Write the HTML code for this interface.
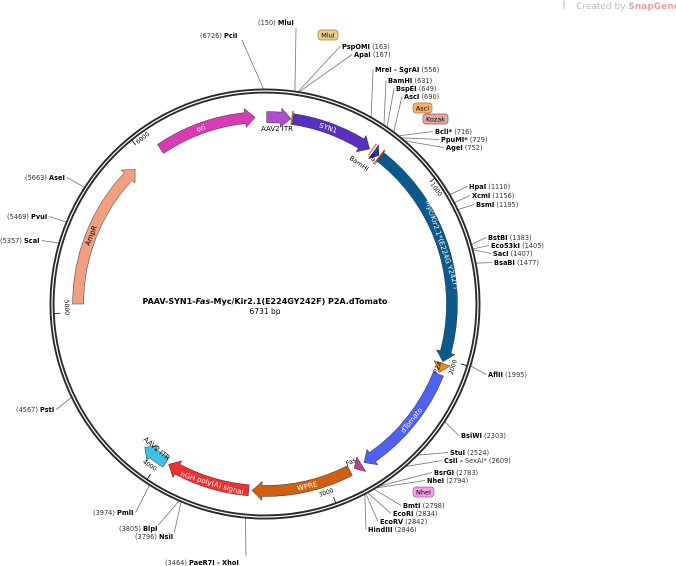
<!DOCTYPE html>
<html><head><meta charset="utf-8"><style>
html,body{margin:0;padding:0;background:#fff;width:676px;height:566px;overflow:hidden}
svg text{font-family:"DejaVu Sans","Liberation Sans",sans-serif}
.e{font-size:6.6px;font-weight:bold;fill:#000}
.n{font-weight:normal;fill:#333}
.g{font-size:6.6px;fill:#888}
</style></head><body>
<svg id="s" width="676" height="566" viewBox="0 0 676 566" xmlns="http://www.w3.org/2000/svg">
<text x="576" y="9" font-size="9" fill="#bbb">Created by <tspan fill="#e8a0a0" font-weight="bold">SnapGene</tspan></text>
<rect x="563" y="1" width="2" height="8" fill="#cde"/>
<g id="lines" stroke="#777" stroke-width="0.8" fill="none"></g>
<circle cx="265" cy="304" r="213" fill="none" stroke="#2a2a2a" stroke-width="5"/>
<circle cx="265" cy="304" r="213" fill="none" stroke="#fff" stroke-width="1.2"/>
<g id="feat"></g>
<g id="ticks"></g>
<text x="265" y="304" font-size="8" font-weight="bold" text-anchor="middle">PAAV-SYN1-<tspan font-style="italic">Fas</tspan>-Myc/Kir2.1(E224GY242F) P2A.dTomato</text>
<text x="265" y="314" font-size="7.5" text-anchor="middle">6731 bp</text>
<g id="labs"></g>
<text x="261" y="131" font-size="7">AAV2 ITR</text>
<text font-size="6.5" transform="translate(369,156) rotate(60)">Fas</text>
<text font-size="6.5" transform="translate(349,159) rotate(35)">BamHI</text>
<text font-size="6.5" transform="translate(437,374) rotate(-65)">P2A</text>
<text font-size="6.5" transform="translate(347,466) rotate(-25)">Fas</text>
<text font-size="7" transform="translate(143,440) rotate(40)">AAV2 ITR</text>
<rect x="318" y="30" width="20" height="10" rx="3" fill="#e8cf92" stroke="#a08040" stroke-width="0.7"/>
<text x="328" y="37.5" font-size="6.5" text-anchor="middle">MluI</text>
<rect x="413" y="103" width="19" height="10" rx="3" fill="#f6b070" stroke="#c07030" stroke-width="0.7"/>
<text x="422.5" y="110.5" font-size="6.5" text-anchor="middle">AscI</text>
<rect x="423" y="114" width="25" height="10" rx="3" fill="#e8a8a8" stroke="#a05050" stroke-width="0.7"/>
<text x="435.5" y="121.5" font-size="6.5" text-anchor="middle">Kozak</text>
<rect x="413" y="487" width="21" height="10" rx="3" fill="#f0a0e8" stroke="#c050b0" stroke-width="0.7"/>
<text x="423.5" y="494.5" font-size="6.5" text-anchor="middle">NheI</text>
</svg>
<script>
var cx=265,cy=304,NS="http://www.w3.org/2000/svg";
function P(a,r){var t=(a-90)*Math.PI/180;return [cx+r*Math.cos(t),cy+r*Math.sin(t)];}
function el(tag,at,parent,txt){var e=document.createElementNS(NS,tag);for(var k in at)e.setAttribute(k,at[k]);if(txt)e.textContent=txt;document.getElementById(parent).appendChild(e);return e;}
function f(p){return p[0].toFixed(1)+","+p[1].toFixed(1);}
function arrow(a1,a2,col,label,tcol,r,w){
 r=r||187;w=w||11;var hl=10/r*180/Math.PI,hw=4;var ro=r+w/2,ri=r-w/2,d;
 var b=Math.max(a1,a2-hl);var lg=(b-a1)>180?1:0;
 d="M"+f(P(a1,ro))+"A"+ro+","+ro+" 0 "+lg+" 1 "+f(P(b,ro))+"L"+f(P(b,ro+hw))+"L"+f(P(a2,r))+"L"+f(P(b,ri-hw))+"L"+f(P(b,ri))+"A"+ri+","+ri+" 0 "+lg+" 0 "+f(P(a1,ri))+"Z";
 el("path",{d:d,fill:col,stroke:"#333","stroke-width":0.5},"feat");
 if(label){var m=(a1+a2-hl)/2,p=P(m,r),rot=(m>90&&m<270)?m-180:m;
  el("text",{x:0,y:2.3,"font-size":7,fill:tcol||"#fff","text-anchor":"middle",transform:"translate("+f(p)+") rotate("+rot+")"},"feat",label);}
}
arrow(-34,-3,"#d83bb4","ori");
arrow(0.5,8,"#b04cd0");
arrow(8.6,34,"#5a2ec0","SYN1");
arrow(35.5,37.5,"#2a3aa0",null,null,187,9);
arrow(38,108,"#0c5a8c","Myc/Kir2.1*(E224G Y242F)");
arrow(108.5,111.5,"#f08a10",null,null,187,9);
arrow(112,148,"#5060f0","dTomato");
arrow(149,151.5,"#c04090",null,null,187,9);
arrow(153,184,"#d06010","WPRE");
arrow(185,211,"#f03030","hGH poly(A) signal");
arrow(212,220,"#40c0e8");
arrow(270,316,"#f0a080","AmpR","#000");
[[34.8,"#f07070"],[37.9,"#c03010"]].forEach(function(m){var a=P(m[0],181),b=P(m[0],195);el("line",{x1:a[0],y1:a[1],x2:b[0],y2:b[1],stroke:m[1],"stroke-width":1.5},"feat");});
var t0=P(8.3,181),t1=P(8.3,195);el("line",{x1:t0[0],y1:t0[1],x2:t1[0],y2:t1[1],stroke:"#a07020","stroke-width":1.5},"feat");
[1000,2000,3000,4000,5000,6000].forEach(function(b){var a=b/6731*360,p1=P(a,211),p2=P(a,205);
 el("line",{x1:p1[0],y1:p1[1],x2:p2[0],y2:p2[1],stroke:"#000","stroke-width":0.8},"ticks");
 var bottom=(a>90&&a<270);var rot=bottom?a-180:a;
 var pt=P(bottom?a-0.6:a+0.6,bottom?200:204);
 el("text",{x:0,y:0,"font-size":6,"text-anchor":bottom?"end":"start",transform:"translate("+f(pt)+") rotate("+rot+")"},"ticks",""+b);});
var L=[
[6726,200,38,"(6726) ","PciI",1],[150,258,25,"(150) ","MluI",1],
[163,342,49,"PspOMI"," (163)"],[167,354,57,"ApaI"," (167)"],[556,375,72,"MreI - SgrAI"," (556)"],
[631,388,83,"BamHI"," (631)"],[649,396,91,"BspEI"," (649)"],[690,404,99,"AscI"," (690)"],
[716,435,134,"BclI*"," (716)",0,1],[729,441,142,"PpuMI*"," (729)",0,1],[752,446,150,"AgeI"," (752)"],
[1110,469,189,"HpaI"," (1110)"],[1156,472,198,"XcmI"," (1156)"],[1195,476,207,"BsmI"," (1195)"],
[1383,488,240,"BstBI"," (1383)"],[1405,491,248,"Eco53kI"," (1405)"],[1407,493,256,"SacI"," (1407)"],[1477,494,265,"BsaBI"," (1477)"],
[1995,488,377,"AflII"," (1995)"],[2303,461,438,"BsiWI"," (2303)"],[2524,450,455,"StuI"," (2524)"],[2609,444,463,"CsII - ",""],
[2783,434,475,"BsrGI"," (2783)"],[2794,427,483,"NheI"," (2794)"],[2798,403,508,"BmtI"," (2798)"],[2834,393,516,"EcoRI"," (2834)"],
[2842,380,524,"EcoRV"," (2842)"],[2846,368,532,"HindIII"," (2846)"],
[3464,165,565,"(3464) ","PaeR7I - XhoI",1],[3974,93,515,"(3974) ","PmlI",1],[3805,119,531,"(3805) ","BlpI",1],[3796,135,539,"(3796) ","NsiI",1],
[4567,16,412,"(4567) ","PstI",1],[5357,0,243,"(5357) ","ScaI",1],[5469,7,219,"(5469) ","PvuI",1],[5663,25,180,"(5663) ","AseI",1]];
L.forEach(function(l){var a=l[0]/6731*360,p=P(a,214);
 var t=el("text",{x:l[1],y:l[2],"class":l[7]?"g":"e"},"labs");
 var s1=document.createElementNS(NS,"tspan"),s2=document.createElementNS(NS,"tspan");
 s1.textContent=l[3];s2.textContent=l[4];
 if(l[5]){s1.setAttribute("class","n");}else{s2.setAttribute("class","n");}
 if(l[7]){s1.setAttribute("class","");s2.setAttribute("class","");}
 t.appendChild(s1);t.appendChild(s2);
 if(l[3]=="CsII - "){var s3=document.createElementNS(NS,"tspan");s3.setAttribute("class","n");s3.setAttribute("fill","#888");s3.textContent="SexAI* (2609)";t.appendChild(s3);}
 var bb=t.getBBox();var ex,ey=l[2]-2.5;
 if(bb.x+bb.width/2<p[0]) ex=bb.x+bb.width+2; else ex=bb.x-2;
 if(l[0]==150){ex=296;ey=28;} if(l[0]==6726){ex=242;ey=40;}
 if(l[0]==3464){ex=246;ey=556;} if(l[0]==3805||l[0]==3796){ey=l[2]-6;ex=bb.x+bb.width+1;}
 el("path",{d:"M"+f(p)+"L"+ex.toFixed(1)+","+ey.toFixed(1)},"lines");});
</script>
</body></html>
